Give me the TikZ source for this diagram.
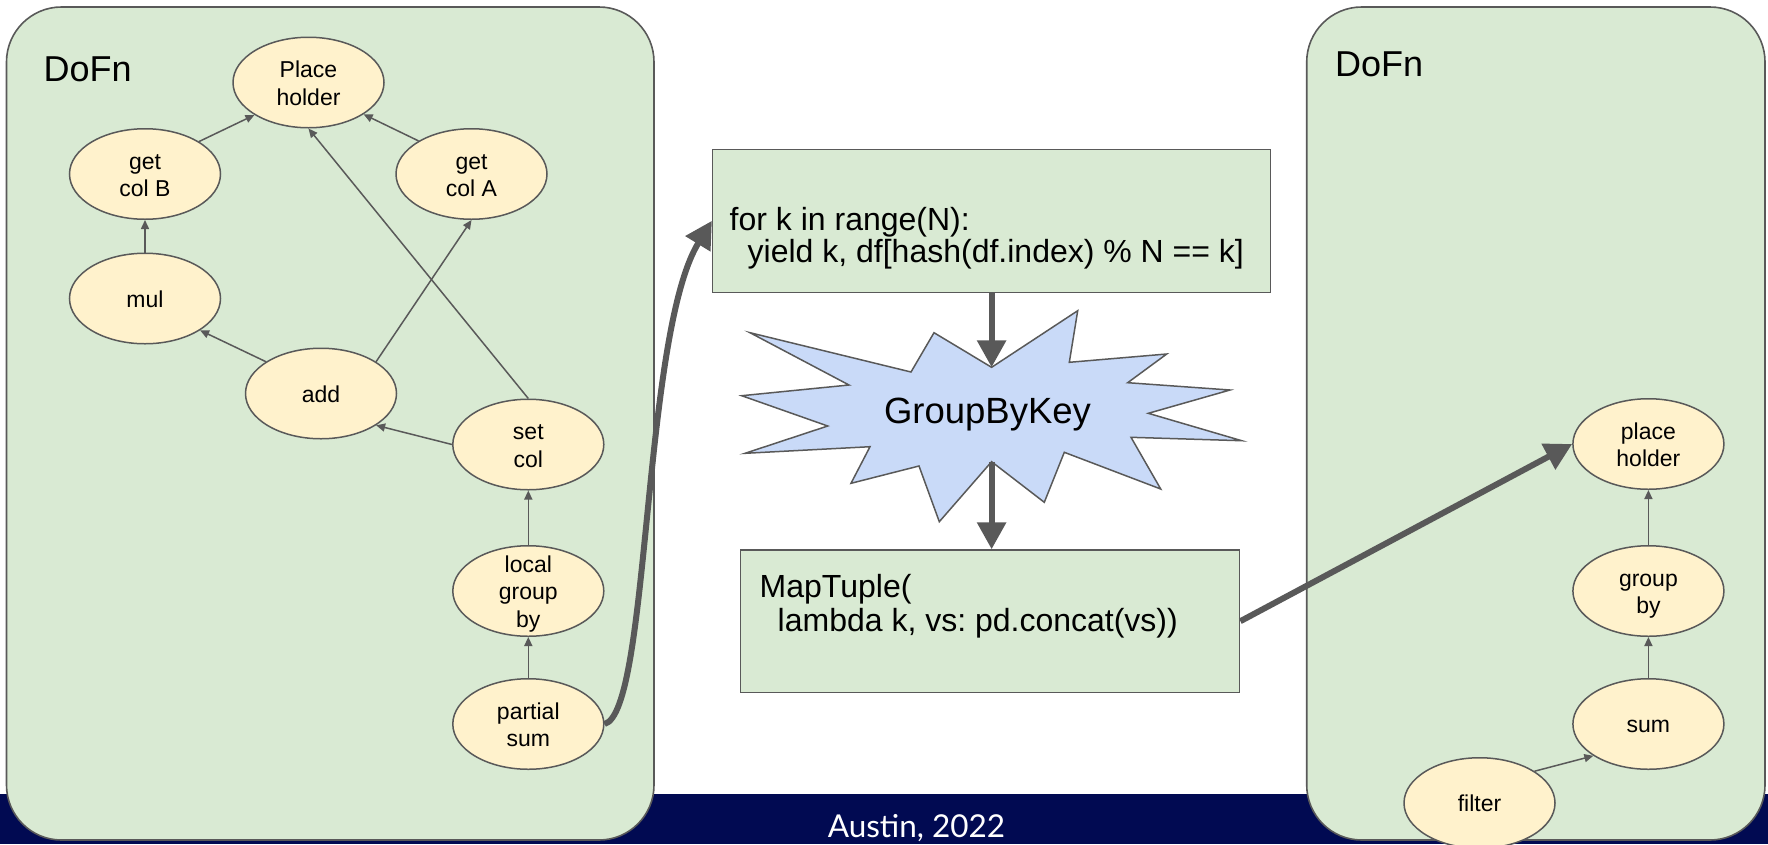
\documentclass[tikz,border=0pt]{standalone}
\usepackage{fontspec}
\setmainfont{Liberation Sans}
\newfontfamily\bannerfont{Lato}
\usetikzlibrary{arrows.meta,shapes.geometric}
\frenchspacing

\definecolor{panelfill}{HTML}{D9EAD3}
\definecolor{linegray}{HTML}{595959}
\definecolor{opfill}{HTML}{FFF2CC}
\definecolor{burstfill}{HTML}{C9DAF8}
\definecolor{navy}{HTML}{010A52}

% multi-line label for an operation ellipse, centred without growing the shape
\newcommand\optext[1]{\smash{\raisebox{-9.5pt}{\begin{tabular}{@{}c@{}}#1\end{tabular}}}}

\tikzset{
  panel/.style={draw=linegray, line width=1.6pt, fill=panelfill, rounded corners=55pt},
  opnode/.style={ellipse, draw=linegray, line width=1.5pt, fill=opfill,
    minimum width=151pt, minimum height=90.5pt, inner sep=0pt,
    font=\fontsize{23pt}{27.5pt}\selectfont},
  codebox/.style={rectangle, draw=linegray, line width=1.5pt, fill=panelfill, inner sep=0pt},
  codetext/.style={anchor=base west, inner sep=0pt, font=\fontsize{32pt}{34pt}\selectfont},
  titletext/.style={anchor=base west, inner sep=0pt, font=\fontsize{36pt}{40pt}\selectfont},
  burst/.style={draw=linegray, line width=1.5pt, fill=burstfill, line join=miter},
  flow/.style={draw=linegray, line width=1.5pt, -{Triangle[length=9pt,width=8pt]}},
  bigflow/.style={draw=linegray, line width=6pt, -{Triangle[length=27pt,width=28pt]}},
}

\begin{document}
\begin{tikzpicture}[x=1pt, y=-1pt]
\useasboundingbox (0,0) rectangle (1768,844);

% footer band
\fill[navy] (0,794) rectangle (1768,844);
\node[anchor=base, inner sep=0pt, text=white, font=\bannerfont\fontsize{31.5pt}{34pt}\selectfont]
  (venue) at (916.5,837.3) {Austin, 2022};

% the two DoFn containers
\draw[panel] (6.5,7) rectangle (654,840);
\draw[panel] (1306.7,7) rectangle (1765,840);
\node[titletext] (dofnL) at (43.5,81) {DoFn};
\node[titletext] (dofnR) at (1335,76) {DoFn};

% first DoFn: local pipeline
\node[opnode] (ph)     at (308.5,82.5) {\optext{Place\\holder}};
\node[opnode] (getB)   at (145,174)    {\optext{get\\col B}};
\node[opnode] (getA)   at (471.5,174)  {\optext{get\\col A}};
\node[opnode] (mul)    at (145,298.5)  {\optext{mul}};
\node[opnode] (add)    at (321,393.5)  {\optext{add}};
\node[opnode] (setcol) at (528.3,444.5){\optext{set\\col}};
\node[opnode] (lgb)    at (528.3,591)  {\optext{local\\group\\by}};
\node[opnode] (psum)   at (528.3,724)  {\optext{partial\\sum}};

\draw[flow] (getB.31) -- (ph.211);
\draw[flow] (getA.148) -- (ph.-30);
\draw[flow] (mul.north) -- (getB.south);
\draw[flow] (add.150) -- (mul.-30);
\draw[flow] (add.30) -- (getA.south);
\draw[flow] (setcol.north) -- (ph.south);
\draw[flow] (setcol.west) -- (add.-30);
\draw[flow] (lgb.north) -- (setcol.south);
\draw[flow] (psum.north) -- (lgb.south);

% second DoFn
\node[opnode] (ph2)    at (1648.4,444) {\optext{place\\holder}};
\node[opnode] (grp)    at (1648.4,591) {\optext{group\\by}};
\node[opnode] (sum)    at (1648.4,724) {\optext{sum}};
\node[opnode] (filter) at (1479.5,803) {\optext{filter}};

\draw[flow] (grp.north) -- (ph2.south);
\draw[flow] (sum.north) -- (grp.south);
\draw[flow] (filter.30) -- (sum.210);

% shuffle stage
\node[codebox, minimum width=557.9pt, minimum height=143pt] (forbox) at (991.6,220.8) {};
\node[codetext] (forA) at (729.5,230) {for k in range(N):};
\node[codetext] (forB) at (729.5,262.7) {\hspace*{18pt}yield k, df[hash(df.index) \% N == k]};

\draw[burst] (750,332.7) -- (911,372) -- (934,332.7) -- (991.6,367.3) -- (1077.7,310.7)
  -- (1069.3,362.3) -- (1166.7,354) -- (1127.7,382.7) -- (1230,390) -- (1148.3,413.3)
  -- (1241.7,440.7) -- (1131,437.3) -- (1160.7,489) -- (1064.3,452.3) -- (1044.3,502.3)
  -- (991.6,461.7) -- (939.3,521.7) -- (919,466) -- (851,483.3) -- (870,446.7)
  -- (745,453.3) -- (827.7,426) -- (741.7,395.7) -- (849,385) -- cycle;
\coordinate (gbkTop) at (991.6,367.3);
\coordinate (gbkBot) at (991.6,461.7);
\node[anchor=base, inner sep=0pt, font=\fontsize{36.5pt}{40pt}\selectfont] (gbk) at (987.5,423.3) {GroupByKey};

\node[codebox, minimum width=498.9pt, minimum height=142.3pt] (mapbox) at (990.15,621.2) {};
\node[codetext] (mapA) at (759.5,597.3) {MapTuple(};
\node[codetext] (mapB) at (759.5,631) {\hspace*{18pt}lambda k, vs: pd.concat(vs))};

% data movement between stages
\draw[bigflow] (forbox.south -| gbkTop) -- (gbkTop);
\draw[bigflow] (gbkBot) -- (gbkBot |- mapbox.north);
\draw[bigflow] (psum.east) .. controls (650,712) and (642,335) .. (forbox.west);
\draw[bigflow] (mapbox.east) -- (ph2.west);
\end{tikzpicture}
\end{document}
